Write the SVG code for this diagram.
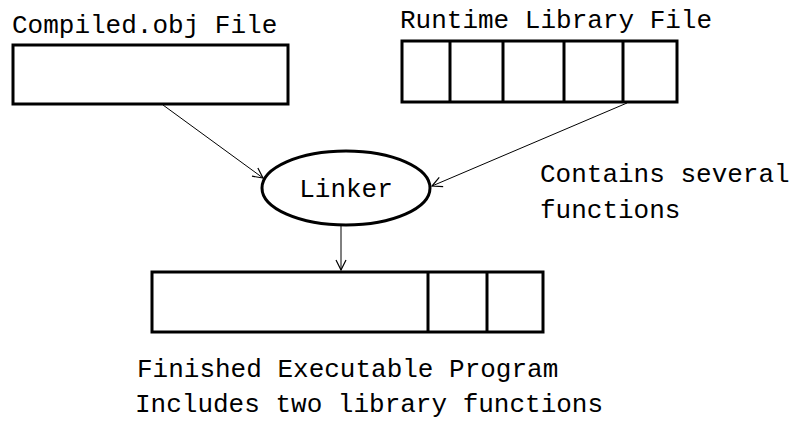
<svg xmlns="http://www.w3.org/2000/svg" width="794" height="432" viewBox="0 0 794 432">
<defs>
<style>
.t{font-family:"Liberation Mono","DejaVu Sans Mono",monospace;font-size:26px;fill:#000}
.box{fill:#fff;stroke:#000;stroke-width:3}
.div{stroke:#000;stroke-width:3}
.c{fill:none;stroke:#000;stroke-width:1}
</style>
<marker id="ah" viewBox="0 0 12 12" refX="11" refY="6" markerWidth="12" markerHeight="12" markerUnits="userSpaceOnUse" orient="auto">
<path d="M1,1 L11,6 L1,11" fill="none" stroke="#000" stroke-width="1.2"/>
</marker>
</defs>
<rect width="794" height="432" fill="#fff"/>
<g id="compiled">
<text class="t" x="12" y="33">Compiled.obj File</text>
<rect class="box" x="13" y="45" width="275" height="59"/>
</g>
<g id="runtime">
<text class="t" x="400" y="28">Runtime Library File</text>
<rect class="box" x="402" y="41" width="275" height="61"/>
<line class="div" x1="450" y1="41" x2="450" y2="102"/>
<line class="div" x1="503" y1="41" x2="503" y2="102"/>
<line class="div" x1="564" y1="41" x2="564" y2="102"/>
<line class="div" x1="623" y1="41" x2="623" y2="102"/>
</g>
<g id="linker">
<ellipse cx="346" cy="188" rx="84" ry="37" fill="#fff" stroke="#000" stroke-width="3"/>
<text class="t" x="346" y="197" text-anchor="middle">Linker</text>
</g>
<g id="note">
<text class="t" x="540" y="182">Contains several</text>
<text class="t" x="540" y="218">functions</text>
</g>
<g id="program">
<rect class="box" x="152" y="272" width="391" height="60"/>
<line class="div" x1="428" y1="272" x2="428" y2="332"/>
<line class="div" x1="487" y1="272" x2="487" y2="332"/>
<text class="t" x="137" y="377">Finished Executable Program</text>
<text class="t" x="135" y="412">Includes two library functions</text>
</g>
<g id="connectors">
<line class="c" x1="163" y1="105" x2="263" y2="178" marker-end="url(#ah)"/>
<line class="c" x1="627" y1="103" x2="432" y2="186" marker-end="url(#ah)"/>
<line class="c" x1="341" y1="225" x2="341" y2="270" marker-end="url(#ah)"/>
</g>
</svg>
